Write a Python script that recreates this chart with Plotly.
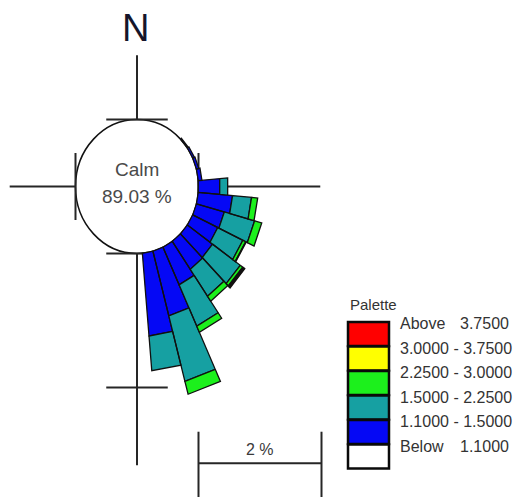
import numpy as np
import plotly.graph_objects as go

# ---------------- data ----------------
directions = [50, 60, 70, 80, 90, 100, 110, 120, 130, 140, 150, 160, 170]   # degrees from N
freq_1p10_1p50 = [0.02, 0.03, 0.04, 0.06, 0.35, 0.56, 0.47, 0.45, 0.50, 0.51, 0.62, 1.00, 1.24]
freq_1p50_2p25 = [0.00, 0.00, 0.00, 0.00, 0.13, 0.31, 0.51, 0.45, 0.55, 0.49, 0.68, 1.01, 0.52]
freq_2p25_3p00 = [0.00, 0.00, 0.00, 0.00, 0.00, 0.10, 0.12, 0.05, 0.05, 0.09, 0.10, 0.20, 0.00]
freq_3p00_3p75 = [0.00, 0.00, 0.00, 0.00, 0.00, 0.00, 0.00, 0.01, 0.02, 0.00, 0.00, 0.00, 0.00]
freq_above_3p75 = [0.00, 0.00, 0.00, 0.00, 0.00, 0.00, 0.00, 0.00, 0.02, 0.00, 0.00, 0.00, 0.00]
calm_percent = 89.03
class_breaks = [1.1, 1.5, 2.25, 3.0, 3.75]
scale_percent = 2

# ---------------- style ----------------
class_series = [freq_1p10_1p50, freq_1p50_2p25, freq_2p25_3p00, freq_3p00_3p75, freq_above_3p75]
class_colors = ["#0508f5", "#16a0a2", "#1cf01c", "#ffff00", "#ff0000"]
CALM_R = 1.0          # radius of calm circle in plot units
SECTOR_HALF = 5.0     # half-width of each sector in degrees
FONT = "Liberation Sans, Arial, sans-serif"
LINE_COL = "#262626"
W, H = 515, 497

fig = go.Figure()

# crosshair arms (drawn outside the calm circle)
arms = [(0, 1.96), (90, 2.98), (180, 4.16), (270, 2.07)]
for ang, rmax in arms:
    a = np.radians(ang)
    fig.add_trace(go.Scatter(x=[CALM_R * np.sin(a), rmax * np.sin(a)],
                             y=[CALM_R * np.cos(a), rmax * np.cos(a)],
                             mode="lines", line=dict(color=LINE_COL, width=2),
                             hoverinfo="skip", showlegend=False))
# ring ticks on the axes
ticks = [(0, CALM_R), (90, CALM_R), (180, CALM_R), (270, CALM_R), (180, CALM_R + scale_percent)]
for ang, r in ticks:
    a = np.radians(ang)
    cx, cy = r * np.sin(a), r * np.cos(a)
    tx, ty = np.cos(a) * 0.5, -np.sin(a) * 0.5
    fig.add_trace(go.Scatter(x=[cx - tx, cx + tx], y=[cy - ty, cy + ty], mode="lines",
                             line=dict(color=LINE_COL, width=2),
                             hoverinfo="skip", showlegend=False))

# stacked wind-rose wedges
cum = np.zeros(len(directions))
for series, col in zip(class_series, class_colors):
    xs, ys = [], []
    for i, (d, v) in enumerate(zip(directions, series)):
        if v <= 0:
            continue
        r1 = CALM_R + cum[i]
        r2 = r1 + v
        a1, a2 = np.radians(d - SECTOR_HALF), np.radians(d + SECTOR_HALF)
        xs += [r1 * np.sin(a1), r2 * np.sin(a1), r2 * np.sin(a2), r1 * np.sin(a2), r1 * np.sin(a1), None]
        ys += [r1 * np.cos(a1), r2 * np.cos(a1), r2 * np.cos(a2), r1 * np.cos(a2), r1 * np.cos(a1), None]
    cum += np.array(series)
    if xs:
        fig.add_trace(go.Scatter(x=xs, y=ys, mode="lines", fill="toself", fillcolor=col,
                                 line=dict(color="#101010", width=1.3),
                                 hoverinfo="skip", showlegend=False))

# calm circle
fig.add_shape(type="circle", xref="x", yref="y", x0=-CALM_R, x1=CALM_R, y0=-CALM_R, y1=CALM_R,
              fillcolor="white", line=dict(color="#111111", width=1.5), layer="below")
fig.add_annotation(x=0, y=0.25, xref="x", yref="y", text="Calm", showarrow=False,
                   font=dict(family=FONT, size=19, color="#4a4a4a"))
fig.add_annotation(x=0, y=-0.15, xref="x", yref="y", text=f"{calm_percent:.2f} %", showarrow=False,
                   font=dict(family=FONT, size=19, color="#4a4a4a"))
fig.add_annotation(x=-0.03, y=2.37, xref="x", yref="y", text="N", showarrow=False,
                   font=dict(family=FONT, size=38, color="#15152a"))

# scale bar (2 %)
sb_y = -4.13
fig.add_trace(go.Scatter(x=[CALM_R, CALM_R + scale_percent], y=[sb_y, sb_y], mode="lines",
                         line=dict(color=LINE_COL, width=2), hoverinfo="skip", showlegend=False))
for xv in [CALM_R, CALM_R + scale_percent]:
    fig.add_trace(go.Scatter(x=[xv, xv], y=[-3.66, -4.7], mode="lines",
                             line=dict(color=LINE_COL, width=2), hoverinfo="skip", showlegend=False))
fig.add_annotation(x=CALM_R + scale_percent / 2, y=-3.93, xref="x", yref="y",
                   text=f"{scale_percent} %", showarrow=False,
                   font=dict(family=FONT, size=16, color="#3a3a3a"))

# palette legend
def px2paper(px, py):
    return px / W, 1 - py / H

labels = []
labels.append(("Above", f"{class_breaks[-1]:.4f}"))
for lo, hi in reversed(list(zip(class_breaks[:-1], class_breaks[1:]))):
    labels.append((f"{lo:.4f} - {hi:.4f}", None))
labels.append(("Below", f"{class_breaks[0]:.4f}"))
legend_colors = list(reversed(class_colors)) + ["#ffffff"]

lx, ly = px2paper(348, 304)
fig.add_annotation(x=lx, y=ly, xref="paper", yref="paper", text="Palette", showarrow=False,
                   xanchor="left", font=dict(family=FONT, size=15, color="#333333"))
row0, pitch, bh = 334, 24.5, 12.0
for k, ((txt, val), col) in enumerate(zip(labels, legend_colors)):
    yc = row0 + pitch * k
    x0, y0 = px2paper(348, yc - bh)
    x1, y1 = px2paper(389, yc + bh)
    fig.add_shape(type="rect", xref="paper", yref="paper", x0=x0, x1=x1, y0=y1, y1=y0,
                  fillcolor=col, line=dict(color="#0a0a0a", width=2.5))
    tx, ty = px2paper(398, yc)
    fig.add_annotation(x=tx, y=ty, xref="paper", yref="paper", text=txt, showarrow=False,
                       xanchor="left", font=dict(family=FONT, size=16, color="#333333"))
    if val is not None:
        vx, _ = px2paper(511, yc)
        fig.add_annotation(x=vx, y=ty, xref="paper", yref="paper", text=val, showarrow=False,
                           xanchor="right", font=dict(family=FONT, size=16, color="#333333"))

# axes: X px = 137 + 61.5*X ; Y px = 186.5 - 67*Y
sx, sy, cxp, cyp = 61.5, 67.0, 137.0, 186.5
fig.update_xaxes(range=[-cxp / sx, (W - cxp) / sx], visible=False, fixedrange=True)
fig.update_yaxes(range=[(cyp - H) / sy, cyp / sy], visible=False, fixedrange=True)
fig.update_layout(width=W, height=H, margin=dict(l=0, r=0, t=0, b=0, pad=0),
                  paper_bgcolor="white", plot_bgcolor="white", showlegend=False)

fig.write_html("out.html", config={"displayModeBar": False},
               post_script="document.body.style.margin='0';")
